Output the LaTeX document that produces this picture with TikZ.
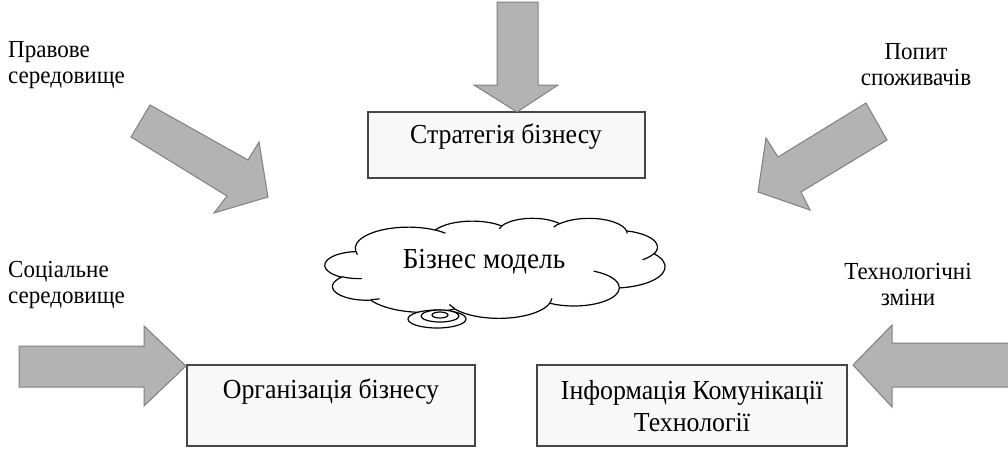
\documentclass[tikz,border=0pt]{standalone}
\usepackage{fontspec}
\setmainfont{Liberation Serif}
\newfontfamily\boxfont[FakeStretch=0.94]{Liberation Serif}
\definecolor{arrowfill}{RGB}{179,179,179}
\definecolor{arrowline}{RGB}{128,128,128}
\definecolor{boxfill}{RGB}{248,248,248}
\definecolor{boxline}{RGB}{70,70,70}
% parametric angle of the point seen at angle #1 on an ellipse with radii #2, #3
\pgfmathdeclarefunction{vis}{3}{\pgfmathparse{atan2(#2*sin(#1),#3*cos(#1))}}
% elliptical arc given by radii, start angle and sweep (degrees)
\newcommand\carc[4]{arc[x radius=#1,y radius=#2,start angle={vis(#3,#1,#2)},
  delta angle={mod(vis(#3+#4,#1,#2)-vis(#3,#1,#2)+720,360)}]}
\begin{document}
\begin{tikzpicture}[x=1pt,y=-1pt,
  blockarrow/.style={fill=arrowfill,draw=arrowline,line width=1pt,line join=miter},
  textbox/.style={draw=boxline,fill=boxfill,line width=1.1pt,rectangle,inner sep=0pt},
  boxtext/.style={font=\boxfont\fontsize{27.5}{32}\selectfont,align=center,inner sep=0pt},
  sidenote/.style={font=\boxfont\fontsize{24.5}{26}\selectfont,inner sep=0pt},
  bubble/.style={draw=black,fill=white,line width=1.2pt,line join=round},
  puffline/.style={draw=black,line width=1.2pt},
]
\useasboundingbox (0,0) rectangle (1008,450);

% text boxes
\node[textbox,minimum width=277pt,minimum height=66pt] (strat) at (506.5,145) {};
\node[textbox,minimum width=288pt,minimum height=81pt] (org) at (331,405.5) {};
\node[textbox,minimum width=310pt,minimum height=81pt] (ict) at (692,405.5) {};

% cloud outline (units of 1/432 of its frame)
\begin{scope}[shift={(325,218)},x=0.787pt,y=-0.2315pt]
  \draw[bubble] (39.00,143.70)
    \carc{67.53}{91.90}{-190.4875}{123.7805}
    \carc{53.33}{72.67}{-144.1024}{89.9452}
    \carc{43.65}{59.45}{-145.8079}{99.7230}
    \carc{48.57}{65.95}{-130.9861}{117.2417}
    \carc{53.33}{72.73}{-78.7089}{109.0269}
    \carc{67.75}{92.20}{-46.2673}{130.2690}
    \carc{57.85}{78.67}{0.6250}{114.0333}
    \carc{67.52}{92.15}{22.4516}{115.1726}
    \carc{77.20}{105.43}{66.2426}{75.7110}
    \carc{43.60}{59.18}{-274.9421}{146.7356}
    \carc{43.45}{59.45}{-246.8285}{152.5189} -- cycle;
  \draw[puffline]
    (46.93,261.77) \carc{43.45}{59.45}{86.742}{26.4295}
    (69.28,348.99) \carc{43.60}{59.18}{73.6105}{11.4475}
    (164.78,390.90) \carc{67.52}{92.15}{137.6242}{14.0811}
    (288.27,347.51) \carc{67.52}{92.15}{6.4533}{15.9984}
    (341.29,229.54) \carc{57.85}{78.67}{-70.2924}{70.9174}
    (417.98,153.54) \carc{53.33}{72.73}{30.3180}{27.7515}
    (383.24,54.26) \carc{48.57}{65.95}{-13.7443}{14.8589}
    (290.78,39.52) \carc{48.57}{65.95}{-149.1815}{18.1954}
    (221.41,47.20) \carc{43.65}{59.45}{-163.4943}{17.6864}
    (140.00,51.92) \carc{67.53}{91.90}{-66.7070}{12.3194}
    (41.27,157.89) \carc{67.53}{91.90}{157.6544}{11.8582};
\end{scope}
\node[inner sep=0pt,font=\boxfont\fontsize{29}{32}\selectfont] (bm) at (484,262) {Бізнес модель};
% thought-bubble tail
\draw[bubble] (437,319) ellipse [x radius=29,y radius=9];
\draw[bubble] (440,316) ellipse [x radius=19,y radius=6];
\draw[bubble] (440,315) ellipse [x radius=8,y radius=3];

% texts in boxes
\node[boxtext] (strattext) at (506,137) {Стратегія бізнесу};
\node[boxtext] (orgtext) at (331,392) {Організація бізнесу};
\node[boxtext] (icttext) at (692,406) {Інформація Комунікації\\Технології};

% side notes
\node[sidenote,anchor=west,align=left] (legal) at (8,65) {Правове\\середовище};
\node[sidenote,align=center] (demand) at (916,65) {Попит\\споживачів};
\node[sidenote,anchor=west,align=left] (social) at (8,284.5) {Соціальне\\середовище};
\node[sidenote,align=center] (tech) at (908,284.5) {Технологічні\\зміни};

% block arrows
\draw[blockarrow] (497,2) -- (538,2) -- (538,85) -- (558,85) -- (517,112)
  -- (474,85) -- (497,85) -- cycle;
\draw[blockarrow] (150,105) -- (248,160) -- (259,142) -- (268,197)
  -- (214,213) -- (227,196) -- (131,137) -- cycle;
\draw[blockarrow] (866,103) -- (778,157) -- (766,138) -- (758,192)
  -- (810,210) -- (801,192) -- (887,140) -- cycle;
\draw[blockarrow] (19,346) -- (144,346) -- (144,326) -- (186,366)
  -- (144,406) -- (144,387) -- (19,387) -- cycle;
\draw[blockarrow] (1010,343) -- (892,343) -- (892,325) -- (853,365)
  -- (892,407) -- (892,387) -- (1010,387) -- cycle;
\end{tikzpicture}
\end{document}
